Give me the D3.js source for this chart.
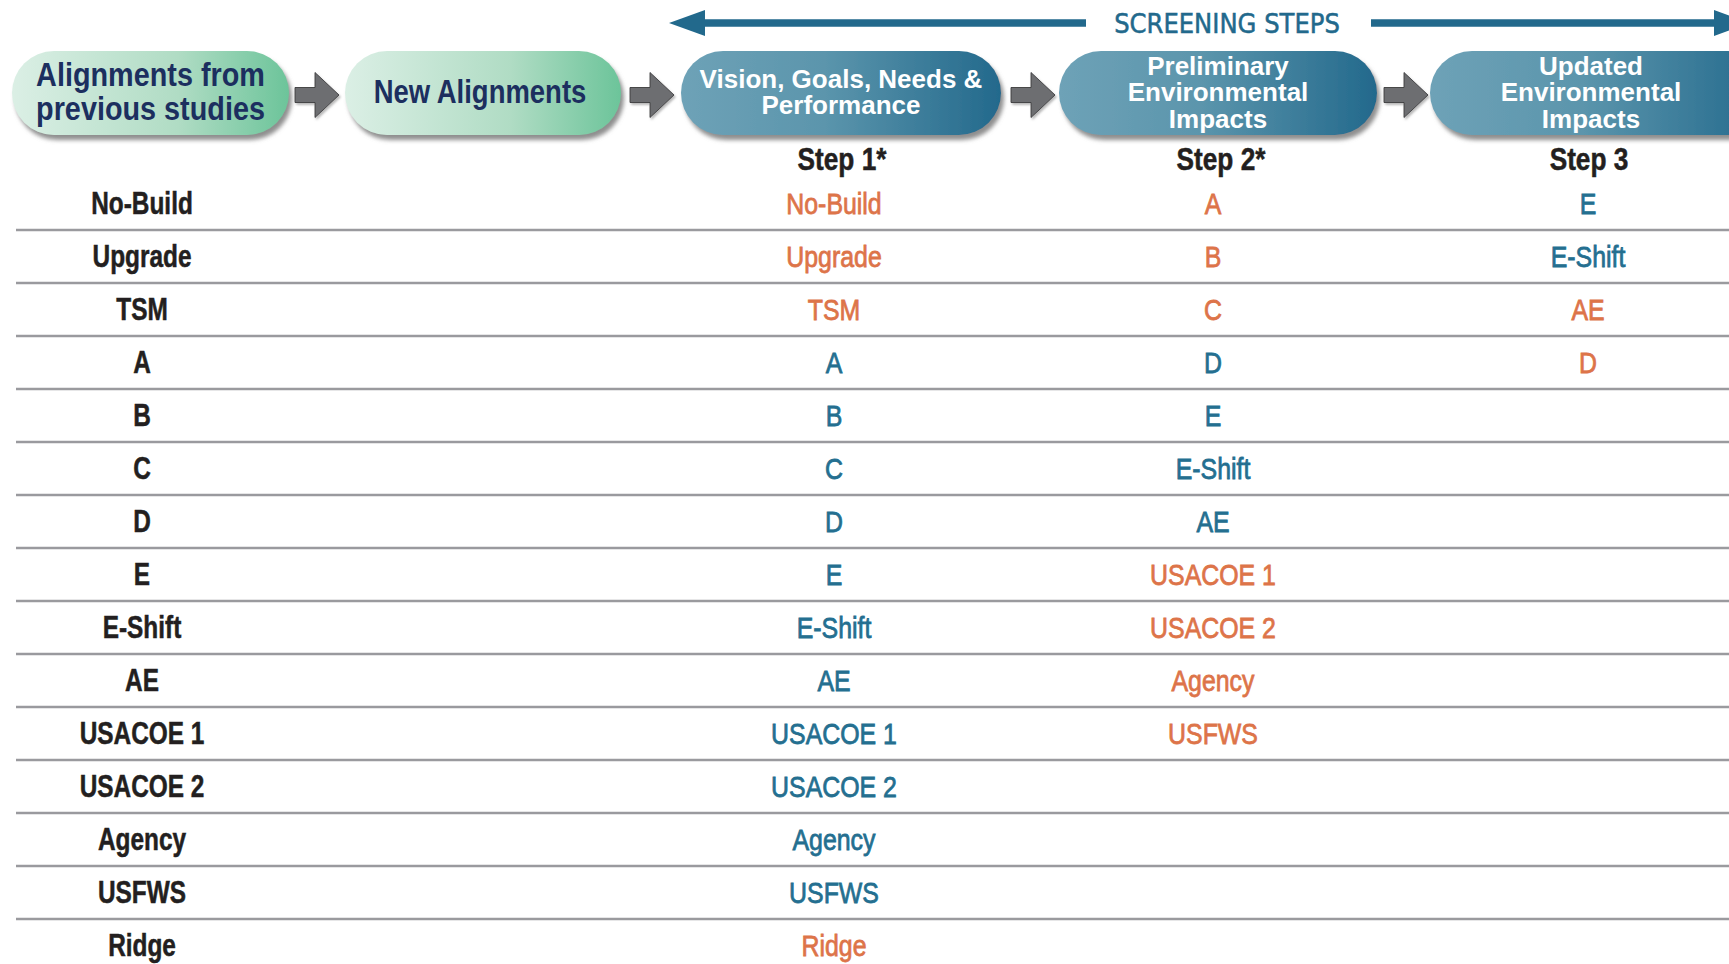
<!DOCTYPE html>
<html>
<head>
<meta charset="utf-8">
<script src="https://cdn.jsdelivr.net/npm/d3@7"></script>
<style>
  html, body { margin: 0; padding: 0; background: #ffffff; }
  svg { display: block; }
</style>
</head>
<body>
<div id="chart"></div>
<script>
// ---------------- DATA ----------------
const alternatives = ["No-Build","Upgrade","TSM","A","B","C","D","E","E-Shift","AE","USACOE 1","USACOE 2","Agency","USFWS","Ridge"];

const stageLabels = [
  ["Alignments from","previous studies"],
  ["New Alignments"],
  ["Vision, Goals, Needs &","Performance"],
  ["Preliminary","Environmental","Impacts"],
  ["Updated","Environmental","Impacts"]
];
const stageKind = ["source","source","screen","screen","screen"];

const stepHeaders = ["Step 1*","Step 2*","Step 3"];

const step1 = ["No-Build","Upgrade","TSM","A","B","C","D","E","E-Shift","AE","USACOE 1","USACOE 2","Agency","USFWS","Ridge"];
const step1Status = ["out","out","out","in","in","in","in","in","in","in","in","in","in","in","out"];

const step2 = ["A","B","C","D","E","E-Shift","AE","USACOE 1","USACOE 2","Agency","USFWS"];
const step2Status = ["out","out","out","in","in","in","in","out","out","out","out"];

const step3 = ["E","E-Shift","AE","D"];
const step3Status = ["in","in","out","out"];

const bannerLabel = "SCREENING STEPS";

// ---------------- LAYOUT ----------------
const W = 1729, H = 964;
const SANS = "'Liberation Sans',Arial,Helvetica,sans-serif";
const COND = "'DejaVu Sans Condensed','DejaVu Sans',sans-serif";
const colors = { in: "#246f90", out: "#dd7449", label: "#231f20", navy: "#1c2f5f", banner: "#22698c" };

const svg = d3.select("#chart").append("svg")
  .attr("width", W).attr("height", H)
  .attr("viewBox", [0, 0, W, H]);

const defs = svg.append("defs");
const gGreen = defs.append("linearGradient").attr("id", "gGreen").attr("x1", "0%").attr("x2", "100%");
gGreen.append("stop").attr("offset", "0%").attr("stop-color", "#dbefe5");
gGreen.append("stop").attr("offset", "60%").attr("stop-color", "#b0dcc4");
gGreen.append("stop").attr("offset", "100%").attr("stop-color", "#6cc49a");
const gBlue = defs.append("linearGradient").attr("id", "gBlue").attr("x1", "0%").attr("x2", "100%");
gBlue.append("stop").attr("offset", "0%").attr("stop-color", "#6ea2b7");
gBlue.append("stop").attr("offset", "45%").attr("stop-color", "#5b95ac");
gBlue.append("stop").attr("offset", "100%").attr("stop-color", "#23698c");
const sh = defs.append("filter").attr("id", "shadow").attr("x", "-10%").attr("y", "-10%").attr("width", "130%").attr("height", "140%");
sh.append("feDropShadow").attr("dx", 3).attr("dy", 5).attr("stdDeviation", 2.2)
  .attr("flood-color", "#7a7a7a").attr("flood-opacity", 0.85);
const sh2 = defs.append("filter").attr("id", "ashadow").attr("x", "-20%").attr("y", "-20%").attr("width", "150%").attr("height", "150%");
sh2.append("feDropShadow").attr("dx", 1.5).attr("dy", 2).attr("stdDeviation", 1.2)
  .attr("flood-color", "#999").attr("flood-opacity", 0.7);

// helper: condensed text via horizontal scaling
const narrow = (sel, xf, yf, sx) =>
  sel.attr("transform", (d, i) => `translate(${xf(d, i)},${yf(d, i)}) scale(${sx},1)`)
     .attr("x", 0).attr("y", 0).attr("dy", "0.36em").attr("text-anchor", "middle");

// --- banner: SCREENING STEPS ---
const banner = svg.append("g");
const by = 23;
banner.append("line").attr("x1", 700).attr("x2", 1086).attr("y1", by).attr("y2", by)
  .attr("stroke", colors.banner).attr("stroke-width", 7.5);
banner.append("path").attr("d", d3.line()([[669, by], [705, by - 13], [705, by + 13]]) + "Z")
  .attr("fill", colors.banner);
banner.append("line").attr("x1", 1371).attr("x2", 1718).attr("y1", by).attr("y2", by)
  .attr("stroke", colors.banner).attr("stroke-width", 7.5);
banner.append("path").attr("d", d3.line()([[1750, by], [1714, by - 13], [1714, by + 13]]) + "Z")
  .attr("fill", colors.banner);
banner.append("text").attr("x", 1227).attr("y", by).attr("dy", "0.36em")
  .attr("text-anchor", "middle").attr("font-family", COND).attr("font-size", 27)
  .attr("fill", colors.banner).attr("stroke", colors.banner).attr("stroke-width", 0.5)
  .text(bannerLabel);

// --- stage boxes ---
const boxX = [12, 345, 681, 1059, 1430];
const boxW = [277, 276, 320, 318, 340];
const boxY = 51, boxH = 84;
const stageG = svg.append("g").selectAll("g").data(stageLabels).join("g");
stageG.append("rect")
  .attr("x", (d, i) => boxX[i]).attr("y", boxY)
  .attr("width", (d, i) => boxW[i]).attr("height", boxH)
  .attr("rx", 42).attr("ry", 42)
  .attr("fill", (d, i) => stageKind[i] === "source" ? "url(#gGreen)" : "url(#gBlue)")
  .attr("filter", "url(#shadow)");
stageG.each(function(lines, i) {
  const src = stageKind[i] === "source";
  const fs = src ? 33.5 : 25.5;
  const lh = src ? 34 : 26.5;
  const sx = src ? (lines.length > 1 ? 0.86 : 0.82) : 1.02;
  const cx = i === 4 ? 1591 : (i === 1 ? 480 : boxX[i] + boxW[i] / 2);
  const cy = boxY + boxH / 2 + (src ? -2 : -1);
  d3.select(this).selectAll("text.lbl").data(lines).join("text")
    .attr("class", "lbl")
    .attr("font-family", SANS)
    .attr("font-weight", "bold")
    .attr("font-size", fs)
    .attr("fill", src ? colors.navy : "#ffffff")
    .call(narrow, () => cx, (d, k) => cy + (k - (lines.length - 1) / 2) * lh, sx)
    .text(d => d);
});

// --- grey block arrows between boxes ---
const arrowX = [295, 630, 1011, 1384];
const arrowY = 95;
const blockArrow = x => d3.line()([
  [x, arrowY - 7.5], [x + 20, arrowY - 7.5], [x + 20, arrowY - 22.5], [x + 44, arrowY],
  [x + 20, arrowY + 22.5], [x + 20, arrowY + 7.5], [x, arrowY + 7.5]
]) + "Z";
svg.append("g").selectAll("path").data(arrowX).join("path")
  .attr("d", d => blockArrow(d))
  .attr("fill", "#6d6e71").attr("stroke", "#3b3b3d").attr("stroke-width", 0.9)
  .attr("filter", "url(#ashadow)");

// --- table ---
const cols = ["label", "s1", "s2", "s3"];
const x = d3.scaleOrdinal().domain(cols).range([142, 834, 1213, 1588]);
const y = d3.scaleBand().domain(d3.range(alternatives.length)).range([177, 177 + 53 * alternatives.length]);
const yc = i => y(i) + y.bandwidth() / 2;

// header
svg.append("g").selectAll("text").data(stepHeaders).join("text")
  .attr("font-family", SANS).attr("font-weight", "bold")
  .attr("font-size", 30.5).attr("fill", colors.label)
  .attr("stroke", colors.label).attr("stroke-width", 0.5)
  .call(narrow, (d, i) => x(cols[i + 1]) + (d.endsWith("*") ? 8 : 1), () => 159.5, 0.86)
  .text(d => d);

// row separators
svg.append("g").selectAll("line").data(d3.range(1, alternatives.length)).join("line")
  .attr("x1", 16).attr("x2", W)
  .attr("y1", d => y(d)).attr("y2", d => y(d))
  .attr("stroke", "#9a9a9e").attr("stroke-width", 2.7);

// row labels
svg.append("g").selectAll("text").data(alternatives).join("text")
  .attr("font-family", SANS).attr("font-weight", "bold")
  .attr("font-size", 30.5).attr("fill", colors.label)
  .attr("stroke", colors.label).attr("stroke-width", 0.5)
  .call(narrow, () => x("label"), (d, i) => yc(i), 0.8)
  .text(d => d);

// step columns
const steps = [[step1, step1Status, "s1"], [step2, step2Status, "s2"], [step3, step3Status, "s3"]];
steps.forEach(([names, status, key]) => {
  svg.append("g").selectAll("text").data(names).join("text")
    .attr("font-family", SANS)
    .attr("font-size", 30)
    .attr("fill", (d, i) => colors[status[i]])
    .attr("stroke", (d, i) => colors[status[i]]).attr("stroke-width", 0.8)
    .call(narrow, () => x(key), (d, i) => yc(i), 0.83)
    .text(d => d);
});
</script>
</body>
</html>
